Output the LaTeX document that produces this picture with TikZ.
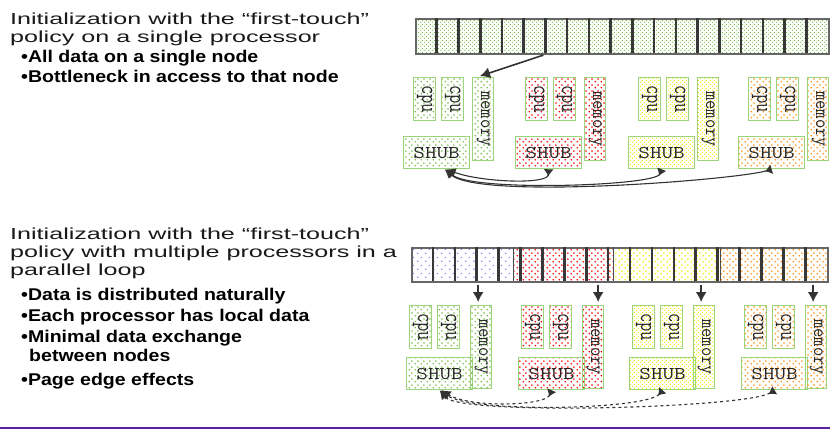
\documentclass[tikz,border=0pt]{standalone}
\usepackage{graphicx}
\usepackage{fontspec}
\setmainfont{Liberation Sans}
\newfontfamily\headfont[FakeStretch=1.57]{Liberation Sans}
\newfontfamily\pointfont[FakeStretch=1.15]{Liberation Sans}
\usetikzlibrary{arrows.meta,patterns}

\definecolor{boxgreen}{HTML}{9CD47A}
\definecolor{dotgreen}{HTML}{78BE48}
\definecolor{dotred}{HTML}{FF0000}
\definecolor{dotyellow}{HTML}{EEEE00}
\definecolor{dotorange}{HTML}{FF9010}
\definecolor{dotblue}{HTML}{7C7CFF}
\definecolor{rule}{HTML}{5A22A0}

\pgfdeclarepatternformonly{dotgrid}{\pgfpointorigin}{\pgfqpoint{6pt}{6pt}}{\pgfqpoint{6pt}{6pt}}{%
  \pgfpathcircle{\pgfqpoint{1.5pt}{1.5pt}}{1pt}%
  \pgfpathcircle{\pgfqpoint{4.5pt}{4.5pt}}{1pt}%
  \pgfusepath{fill}}
\pgfdeclarepatternformonly{finedots}{\pgfpointorigin}{\pgfqpoint{4pt}{4pt}}{\pgfqpoint{4pt}{4pt}}{%
  \pgfpathcircle{\pgfqpoint{1pt}{1pt}}{0.8pt}%
  \pgfpathcircle{\pgfqpoint{3pt}{3pt}}{0.8pt}%
  \pgfusepath{fill}}
\pgfdeclarepatternformonly{sparsedots}{\pgfpointorigin}{\pgfqpoint{8pt}{8pt}}{\pgfqpoint{8pt}{8pt}}{%
  \pgfpathcircle{\pgfqpoint{2pt}{2pt}}{0.9pt}%
  \pgfpathcircle{\pgfqpoint{6pt}{6pt}}{0.9pt}%
  \pgfusepath{fill}}

\begin{document}
\begin{tikzpicture}[x=1pt, y=-1pt,
    head/.style={anchor=base west, inner sep=0pt, text=black!90, font=\headfont\fontsize{16}{18}\selectfont},
    point/.style={anchor=base west, inner sep=0pt, text=black, font=\pointfont\bfseries\fontsize{17}{20}\selectfont},
    box/.style={draw=boxgreen, line width=1.3pt, inner sep=0pt, anchor=north west, text=black!85,
      font=\fontsize{18}{18}\selectfont\ttfamily},
    cpubox/.style={box, minimum width=22pt, minimum height=43pt},
    membox/.style={box, minimum width=21pt, minimum height=83pt},
    shubbox/.style={box, minimum width=66pt, minimum height=32pt},
    divider/.style={draw=black!78, line width=2.6pt},
    drop/.style={draw=black!80, line width=1.6pt, -{Latex[length=10pt,width=11pt]}, shorten <=2pt, shorten >=3pt},
    link/.style={draw=black!80, line width=1.1pt, {Latex[reversed,length=7pt,width=10pt]}-{Latex[length=9pt,width=9pt]}},
    dlink/.style={link, dashed}]
  \useasboundingbox (0,0) rectangle (830,431);

  % single processor
  \node[head] (h1a) at (10,24) {Initialization with the “first-touch”};
  \node[head] (h1b) at (10,42) {policy on a single processor};
  \node[point] (p1a) at (21,62) {•All data on a single node};
  \node[point] (p1b) at (21,82) {•Bottleneck in access to that node};

  \node[draw=black!60, line width=1.5pt, pattern=finedots, pattern color=dotgreen, inner sep=0pt,
    minimum width=413pt, minimum height=35pt, anchor=north west] (arrT) at (415,18) {};
  \foreach \i in {1,...,18}
    \draw[divider] (415+\i*21.74,18) -- (415+\i*21.74,53);

  \foreach \x/\c/\p/\n in {413/dotgreen/dotgrid/1, 525/dotred/dotgrid/2, 638/dotyellow/finedots/3, 748/dotorange/dotgrid/4} {
    \node[cpubox, pattern=\p, pattern color=\c] (up\n-cpu1) at (\x,77) {\rotatebox{-90}{\scalebox{1}[1.3]{cpu}}};
    \node[cpubox, pattern=\p, pattern color=\c] (up\n-cpu2) at (\x+28,77) {\rotatebox{-90}{\scalebox{1}[1.3]{cpu}}};
    \node[membox, pattern=\p, pattern color=\c] (up\n-mem) at (\x+59,77) {\rotatebox{-90}{\scalebox{1}[1.1]{memory}}};
    \node[shubbox, pattern=\p, pattern color=\c] (up\n-shub) at (\x-10,136) {\scalebox{1.25}[1]{SHUB}};
  }

  \draw[drop] ([xshift=-77pt]arrT.south) -- ([xshift=-6pt]up1-mem.north);
  \draw[link] (up2-shub.south) .. controls (548,185) and (480,182) .. ([xshift=10pt]up1-shub.south);
  \draw[link] (up3-shub.south) .. controls (655,186) and (472,192) .. ([xshift=9pt]up1-shub.south);
  \draw[link] (up4-shub.south) .. controls (735,180) and (480,200) .. ([xshift=8pt]up1-shub.south);

  % parallel loop
  \node[head] (h2a) at (10,239) {Initialization with the “first-touch”};
  \node[head] (h2b) at (10,257) {policy with multiple processors in a};
  \node[head] (h2c) at (10,275) {parallel loop};
  \node[point] (p2a) at (21,300) {•Data is distributed naturally};
  \node[point] (p2b) at (21,321) {•Each processor has local data};
  \node[point] (p2c) at (21,342) {•Minimal data exchange};
  \node[point] (p2d) at (29,361) {between nodes};
  \node[point] (p2e) at (21,385) {•Page edge effects};

  \fill[pattern=sparsedots, pattern color=dotblue] (411,247) rectangle (513,281);
  \fill[pattern=dotgrid, pattern color=dotred] (513,247) rectangle (613,281);
  \fill[pattern=dotgrid, pattern color=dotyellow] (613,247) rectangle (720,281);
  \fill[pattern=dotgrid, pattern color=dotorange] (720,247) rectangle (827,281);
  \node[draw=black!60, line width=1.5pt, inner sep=0pt,
    minimum width=416pt, minimum height=34pt, anchor=north west] (arrB) at (411,247) {};
  \foreach \i in {1,...,18}
    \draw[divider] (411+\i*21.9,247) -- (411+\i*21.9,281);
  \foreach \xb in {513,613,720}
    \draw[black!70, line width=0.8pt] (\xb,247) -- (\xb,281);

  \foreach \x/\c/\p/\n in {409/dotgreen/dotgrid/1, 521/dotred/dotgrid/2, 632/dotyellow/finedots/3, 744/dotorange/dotgrid/4} {
    \node[cpubox, pattern=\p, pattern color=\c] (lo\n-cpu1) at (\x,305) {\rotatebox{-90}{\scalebox{1}[1.3]{cpu}}};
    \node[cpubox, pattern=\p, pattern color=\c] (lo\n-cpu2) at (\x+28,305) {\rotatebox{-90}{\scalebox{1}[1.3]{cpu}}};
    \node[shubbox, pattern=\p, pattern color=\c] (lo\n-shub) at (\x-3,357) {\scalebox{1.25}[1]{SHUB}};
    \node[membox, pattern=\p, pattern color=\c] (lo\n-mem) at (\x+61,305) {\rotatebox{-90}{\scalebox{1}[1.1]{memory}}};
  }

  \foreach \n/\d in {1/-3,2/5,3/-3,4/-3}
    \draw[drop] ([xshift=\d pt]lo\n-mem.north |- arrB.south) -- ([xshift=\d pt]lo\n-mem.north);
  \draw[dlink] (lo2-shub.south) .. controls (545,406) and (470,408) .. ([xshift=2pt]lo1-shub.south);
  \draw[dlink] (lo3-shub.south) .. controls (645,410) and (470,413) .. ([xshift=1pt]lo1-shub.south);
  \draw[dlink] (lo4-shub.south) .. controls (745,408) and (460,416) .. (lo1-shub.south);

  \draw[rule, line width=2pt] (0,428) -- (830,428);
\end{tikzpicture}
\end{document}
